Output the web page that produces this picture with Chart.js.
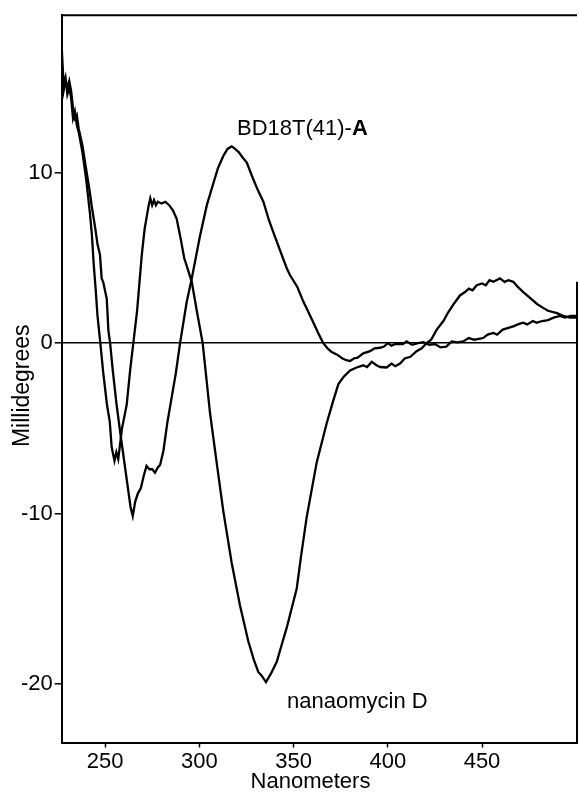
<!DOCTYPE html>
<html>
<head>
<meta charset="utf-8">
<script src="https://cdn.jsdelivr.net/npm/chart.js@4.4.1/dist/chart.umd.min.js"></script>
<style>
  html, body { margin: 0; padding: 0; background: #fff; }
  #wrap { width: 579px; height: 792px; }
</style>
</head>
<body>
<div id="wrap"><canvas id="cd"></canvas></div>
<script>
// wavelength (nm) and ellipticity (millidegrees)
const nanaWl = [227, 228, 229, 230, 231, 232, 233, 234, 235, 236, 238, 240, 242, 243, 244, 245, 246, 247.5, 249, 251, 252.5, 253.5, 255, 256, 257, 259, 261.5, 263.3, 265, 267, 269.5, 271, 273, 274, 275, 276, 277, 278, 280, 282, 284, 286, 288, 290, 292, 294, 296, 299, 301.8, 305.7, 309.2, 312.8, 317.2, 321.6, 326, 329, 331.3, 333, 335.4, 338, 341.1, 344, 346.4, 351.7, 354, 357, 362.3, 367.6, 371, 373.8, 376.4, 380, 383.5, 387, 389, 391.5, 394, 396, 399.4, 402, 404, 406.5, 409, 412, 415.3, 418, 420.6, 423, 426, 429.5, 432, 435, 438.3, 441, 443, 445, 447.2, 450, 452, 454, 456, 459.5, 462, 464, 466.6, 469, 471.9, 475, 479.2, 482, 485, 489.8, 493, 496.7, 500];
const nanaMdeg = [17.4, 15.2, 15.6, 14.6, 15.0, 14.4, 13.2, 13.6, 12.8, 12.4, 11.2, 9.6, 7.6, 6.4, 4.6, 3.2, 1.6, 0, -1.7, -3.6, -4.6, -6.1, -6.9, -6.4, -6.8, -5.0, -3.6, -1.6, 0, 1.9, 5.2, 6.7, 8.0, 8.5, 8.1, 8.4, 8.1, 8.3, 8.2, 8.3, 8.1, 7.8, 7.3, 6.2, 5.0, 4.3, 3.6, 1.7, 0, -4.1, -7.0, -9.9, -12.9, -15.4, -17.5, -18.6, -19.3, -19.5, -19.9, -19.4, -18.7, -17.6, -16.7, -14.4, -12.5, -10.2, -7.0, -4.7, -3.4, -2.4, -2.0, -1.6, -1.43, -1.3, -1.4, -1.1, -1.3, -1.4, -1.43, -1.2, -1.35, -1.2, -0.9, -0.8, -0.47, -0.3, 0, 0.2, 0.8, 1.3, 1.8, 2.3, 2.8, 3.0, 3.2, 3.1, 3.4, 3.5, 3.4, 3.7, 3.6, 3.8, 3.6, 3.7, 3.6, 3.3, 3.0, 2.7, 2.3, 2.1, 1.9, 1.76, 1.6, 1.5, 1.5];

const bdWl = [227, 228, 229, 230, 231, 232, 233, 234, 235, 236, 238, 240, 242, 243, 244, 245, 246, 247.3, 248.2, 249, 250.9, 251.8, 252.7, 254, 256, 258, 260, 262, 263.5, 264.7, 266, 267.5, 269, 270.5, 272, 273.5, 275, 276.5, 278, 279.2, 281, 283, 285, 287.5, 289.8, 293.3, 296, 300.4, 304, 307.5, 310, 312.8, 315, 317.2, 319, 321, 323, 325.2, 328, 331, 334, 337, 339.3, 343, 346.4, 348.1, 352, 355.2, 358, 361, 363.5, 365.8, 368, 370, 372.9, 376, 378, 380, 382, 384, 387, 390.6, 393, 395.9, 398, 400, 402, 404, 408, 410, 413, 416, 419, 422, 425, 428, 431, 434, 437, 440, 443, 446, 450.6, 453, 456, 458, 461, 464, 467, 469, 471.8, 474, 477, 479, 482, 485, 488, 491.4, 494, 497, 500];
const bdMdeg = [16.2, 14.8, 15.4, 15.0, 15.4, 14.8, 13.8, 13.2, 13.4, 12.6, 11.6, 10.2, 8.8, 8.0, 7.3, 6.6, 5.8, 5.2, 3.8, 3.6, 2.6, 0.7, 0, -1.5, -3.5, -5.2, -6.8, -8.4, -9.6, -10.15, -9.3, -8.8, -8.5, -7.8, -7.2, -7.4, -7.4, -7.6, -7.3, -7.15, -6.3, -4.7, -3.4, -1.8, 0, 2.4, 3.8, 6.3, 8.1, 9.4, 10.3, 11.0, 11.4, 11.55, 11.4, 11.2, 10.9, 10.6, 9.8, 9.0, 8.3, 7.2, 6.5, 5.4, 4.4, 4.0, 3.3, 2.44, 1.8, 1.1, 0.5, 0, -0.3, -0.5, -0.66, -0.9, -1.0, -1.05, -0.9, -0.85, -0.6, -0.47, -0.3, -0.27, -0.2, 0.0, -0.15, -0.05, -0.06, 0.1, -0.1, 0, 0.05, -0.1, -0.05, -0.25, -0.2, 0.1, 0.05, 0.1, 0.3, 0.2, 0.3, 0.5, 0.6, 0.5, 0.8, 0.9, 1.0, 1.1, 1.2, 1.1, 1.3, 1.2, 1.3, 1.35, 1.5, 1.6, 1.5, 1.6, 1.6];

const xTicks = [250, 300, 350, 400, 450];
const yTicks = [-20, -10, 0, 10];

const FONT = 'Liberation Sans, Arial, sans-serif';

const toPts = (xs, ys) => xs.map((x, i) => ({ x: x, y: ys[i] }));

// frame (top + partial right edge), axis titles and the two curve labels
const extras = {
  id: 'extras',
  afterDraw(chart) {
    const { ctx, chartArea: a, scales: { x, y } } = chart;
    ctx.save();
    ctx.strokeStyle = '#000';
    ctx.lineWidth = 2;
    ctx.beginPath();
    ctx.moveTo(a.left, a.top);
    ctx.lineTo(a.right, a.top);
    ctx.moveTo(a.right, y.getPixelForValue(3.6));
    ctx.lineTo(a.right, a.bottom);
    ctx.stroke();

    ctx.fillStyle = '#000';
    ctx.textBaseline = 'alphabetic';
    ctx.textAlign = 'left';
    ctx.font = '22px ' + FONT;
    const bx = x.getPixelForValue(320), by = y.getPixelForValue(12.2);
    const part = 'BD18T(41)-';
    ctx.fillText(part, bx, by);
    const w = ctx.measureText(part).width;
    ctx.font = 'bold 22px ' + FONT;
    ctx.fillText('A', bx + w, by);

    ctx.font = '22px ' + FONT;
    ctx.fillText('nanaomycin D', x.getPixelForValue(346.6), y.getPixelForValue(-21.4));

    // axis titles
    ctx.textAlign = 'center';
    ctx.fillText('Nanometers', x.getPixelForValue(359), 788);
    ctx.translate(29, y.getPixelForValue(-2.5));
    ctx.rotate(-Math.PI / 2);
    ctx.font = '23px ' + FONT;
    ctx.fillText('Millidegrees', 0, 0);
    ctx.restore();
  }
};

new Chart(document.getElementById('cd'), {
  type: 'line',
  data: {
    datasets: [
      {
        label: 'nanaomycin D',
        data: toPts(nanaWl, nanaMdeg),
        borderColor: '#000',
        borderWidth: 2.3,
        pointRadius: 0,
        tension: 0
      },
      {
        label: 'BD18T(41)-A',
        data: toPts(bdWl, bdMdeg),
        borderColor: '#000',
        borderWidth: 2.3,
        pointRadius: 0,
        tension: 0
      }
    ]
  },
  options: {
    responsive: true,
    maintainAspectRatio: false,
    animation: false,
    layout: { padding: { top: 12, right: 2, bottom: 0, left: 0 } },
    plugins: {
      legend: { display: false },
      tooltip: { enabled: false }
    },
    scales: {
      x: {
        type: 'linear',
        min: 227,
        max: 500.4,
        afterBuildTicks: s => { s.ticks = xTicks.map(v => ({ value: v })); },
        afterFit: s => { s.height = 49.5; },
        border: { display: true, color: '#000', width: 2 },
        grid: { drawOnChartArea: false, drawTicks: true, tickLength: 5, tickColor: '#000', tickWidth: 1.5 },
        ticks: { color: '#000', font: { family: FONT, size: 22 }, padding: 1, maxRotation: 0 }
      },
      y: {
        min: -23.44,
        max: 19.25,
        afterBuildTicks: s => { s.ticks = yTicks.map(v => ({ value: v })); },
        afterFit: s => { s.width = 61.7; },
        border: { display: true, color: '#000', width: 2 },
        grid: {
          drawOnChartArea: true,
          color: c => (c.tick && c.tick.value === 0 ? '#000' : 'rgba(0,0,0,0)'),
          lineWidth: 1.6,
          drawTicks: true,
          tickLength: 7,
          tickColor: '#000',
          tickWidth: 1.5
        },
        ticks: { color: '#000', font: { family: FONT, size: 22 }, padding: 2 }
      }
    }
  },
  plugins: [extras]
});
</script>
</body>
</html>
